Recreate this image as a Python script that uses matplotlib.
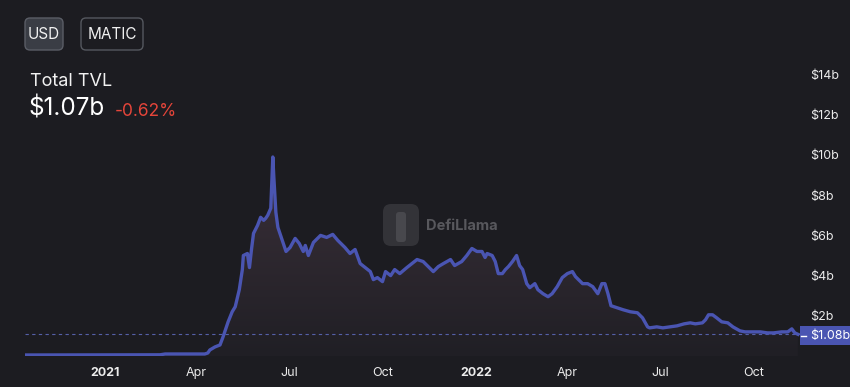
import matplotlib
matplotlib.use("Agg")
import matplotlib.pyplot as plt
import matplotlib.dates as mdates
import numpy as np
import pandas as pd
from matplotlib.patches import FancyBboxPatch, Rectangle
from matplotlib.colors import LinearSegmentedColormap

plt.rcParams['font.family'] = ['Inter', 'DejaVu Sans']

# Polygon total TVL (USD, billions)
dates = [
    "2020-10-14", "2021-02-24", "2021-03-01", "2021-04-09", "2021-04-12", "2021-04-14",
    "2021-04-19", "2021-04-24", "2021-04-27", "2021-05-02", "2021-05-06", "2021-05-09",
    "2021-05-13", "2021-05-16", "2021-05-17", "2021-05-21", "2021-05-23", "2021-05-25",
    "2021-05-27", "2021-05-31", "2021-06-03", "2021-06-06", "2021-06-08", "2021-06-10",
    "2021-06-13", "2021-06-15", "2021-06-16", "2021-06-18", "2021-06-20", "2021-06-24",
    "2021-06-28", "2021-07-02", "2021-07-07", "2021-07-11", "2021-07-15", "2021-07-17",
    "2021-07-20", "2021-07-25", "2021-08-01", "2021-08-07", "2021-08-13", "2021-08-18",
    "2021-08-25", "2021-08-30", "2021-09-04", "2021-09-09", "2021-09-14", "2021-09-19",
    "2021-09-22", "2021-09-26", "2021-10-01", "2021-10-04", "2021-10-09", "2021-10-13",
    "2021-10-18", "2021-10-25", "2021-10-30", "2021-11-04", "2021-11-10", "2021-11-15",
    "2021-11-20", "2021-11-25", "2021-11-30", "2021-12-07", "2021-12-11", "2021-12-18",
    "2021-12-23", "2021-12-28", "2022-01-02", "2022-01-07", "2022-01-10", "2022-01-12",
    "2022-01-17", "2022-01-20", "2022-01-23", "2022-01-27", "2022-01-30", "2022-02-02",
    "2022-02-06", "2022-02-10", "2022-02-13", "2022-02-16", "2022-02-20", "2022-02-23",
    "2022-02-28", "2022-03-03", "2022-03-08", "2022-03-13", "2022-03-17", "2022-03-22",
    "2022-03-27", "2022-04-01", "2022-04-06", "2022-04-09", "2022-04-12", "2022-04-16",
    "2022-04-21", "2022-04-26", "2022-05-01", "2022-05-05", "2022-05-08", "2022-05-11",
    "2022-05-14", "2022-05-20", "2022-05-26", "2022-06-02", "2022-06-09", "2022-06-14",
    "2022-06-19", "2022-06-21", "2022-06-28", "2022-07-04", "2022-07-11", "2022-07-18",
    "2022-07-25", "2022-07-31", "2022-08-05", "2022-08-12", "2022-08-15", "2022-08-18",
    "2022-08-22", "2022-08-26", "2022-08-31", "2022-09-06", "2022-09-11", "2022-09-18",
    "2022-09-23", "2022-10-01", "2022-10-08", "2022-10-15", "2022-10-21", "2022-10-29",
    "2022-11-04", "2022-11-08", "2022-11-11", "2022-11-14",
]
tvl = [
    0.05, 0.06, 0.10, 0.10, 0.15, 0.30,
    0.45, 0.55, 0.95, 1.70, 2.20, 2.45,
    3.30, 4.30, 5.00, 5.10, 4.40, 5.30,
    6.10, 6.50, 6.90, 6.75, 6.85, 7.00,
    7.35, 9.90, 8.90, 7.15, 6.40, 5.80,
    5.20, 5.40, 5.85, 5.60, 5.20, 5.50,
    5.00, 5.65, 6.00, 5.90, 6.05, 5.75,
    5.40, 5.10, 5.30, 4.60, 4.40, 4.20,
    3.80, 3.90, 3.70, 4.20, 4.00, 4.30,
    4.10, 4.40, 4.60, 4.80, 4.70, 4.45,
    4.20, 4.45, 4.60, 4.80, 4.50, 4.70,
    5.00, 5.35, 5.20, 5.20, 4.90, 5.10,
    5.00, 4.70, 4.10, 4.10, 4.30, 4.45,
    4.70, 5.00, 4.50, 4.30, 3.60, 3.40,
    3.60, 3.30, 3.10, 2.95, 3.10, 3.45,
    3.90, 4.10, 4.20, 3.95, 3.80, 3.60,
    3.60, 3.45, 3.10, 3.60, 3.60, 3.10,
    2.50, 2.40, 2.30, 2.20, 2.15, 1.90,
    1.45, 1.40, 1.45, 1.40, 1.45, 1.50,
    1.60, 1.65, 1.60, 1.65, 1.80, 2.05,
    2.05, 1.90, 1.70, 1.65, 1.45, 1.25,
    1.20, 1.20, 1.20, 1.15, 1.15, 1.20,
    1.20, 1.35, 1.15, 1.08,
]
last_value = 1.08
y_ticks = [2, 4, 6, 8, 10, 12, 14]
x_ticks = ["2021-01-01", "2021-04-01", "2021-07-01", "2021-10-01",
           "2022-01-01", "2022-04-01", "2022-07-01", "2022-10-01"]
x_labels = ["2021", "Apr", "Jul", "Oct", "2022", "Apr", "Jul", "Oct"]

BG = '#1c1c21'
LINE = '#4a55b2'
W, H = 850, 387

fig = plt.figure(figsize=(8.5, 3.87), dpi=100, facecolor=BG)
ax = fig.add_axes([25 / W, 31 / H, 780 / W, 296 / H])
ax.set_facecolor(BG)

x = mdates.date2num(pd.to_datetime(dates))
y = np.array(tvl)

# gradient fill under the line
fill = ax.fill_between(x, y, 0, color='none', lw=0)
cmap = LinearSegmentedColormap.from_list('tvl', ['#201f25', '#3b3039'])
grad = np.linspace(0, 1, 256).reshape(-1, 1)
im = ax.imshow(grad, cmap=cmap, aspect='auto', origin='lower',
               extent=[x.min(), x.max(), 0, y.max()], zorder=1)
im.set_clip_path(fill.get_paths()[0], transform=ax.transData)

ax.plot(x, y, color=LINE, lw=2.4, solid_joinstyle='round', zorder=3)
ax.axhline(last_value, color='#5560a8', lw=0.8, ls=(0, (3, 3)), zorder=2)

ax.set_xlim(mdates.date2num(pd.Timestamp("2020-10-14")),
            mdates.date2num(pd.Timestamp("2022-11-21")))
ax.set_ylim(0, 296 / 20.1)

for s in ax.spines.values():
    s.set_visible(False)
ax.yaxis.tick_right()
ax.set_yticks(y_ticks)
ax.set_yticklabels([f"${v}b" for v in y_ticks])
ax.set_xticks(mdates.date2num(pd.to_datetime(x_ticks)))
ax.set_xticklabels(x_labels)
ax.tick_params(axis='both', length=0, colors='#ececec', labelsize=9)
ax.tick_params(axis='x', pad=8)
ax.tick_params(axis='y', pad=4)
for lbl in ax.get_xticklabels():
    if lbl.get_text().startswith("20"):
        lbl.set_fontweight('bold')

# overlay in pixel coordinates for header, watermark and price label
ov = fig.add_axes([0, 0, 1, 1])
ov.set_xlim(0, W)
ov.set_ylim(H, 0)
ov.axis('off')

ov.add_patch(FancyBboxPatch((25, 18), 38, 32, boxstyle='round,pad=0,rounding_size=5',
                            fc='#3a3d45', ec='#5a5d66', lw=1))
ov.text(44, 34.5, "USD", color='#f0f0f0', fontsize=11, ha='center', va='center')
ov.add_patch(FancyBboxPatch((81, 18), 62, 32, boxstyle='round,pad=0,rounding_size=5',
                            fc=BG, ec='#55585f', lw=1))
ov.text(112, 34.5, "MATIC", color='#f0f0f0', fontsize=11, ha='center', va='center')

ov.text(30, 86, "Total TVL", color='#f2f2f2', fontsize=13, ha='left', va='baseline')
ov.text(29, 116, "$1.07b", color='#ffffff', fontsize=17.5, ha='left', va='baseline')
ov.text(115, 116, "-0.62%", color='#e5453a', fontsize=12.5, ha='left', va='baseline')

# watermark
ov.add_patch(FancyBboxPatch((383, 204), 36, 42, boxstyle='round,pad=0,rounding_size=8',
                            fc='#333338', ec='none', zorder=0))
ov.add_patch(FancyBboxPatch((396, 212), 10, 30, boxstyle='round,pad=0,rounding_size=3',
                            fc='#48484d', ec='none', zorder=0))
ov.text(426, 226, "DefiLlama", color='#58585d', fontsize=10.5, fontweight='bold',
        ha='left', va='center', zorder=0)

# last value label
ov.add_patch(Rectangle((800, 326), 52, 19, fc=LINE, ec='none'))
ov.plot([801, 806], [335.5, 335.5], color='white', lw=1)
ov.text(810, 335.5, "$1.08b", color='white', fontsize=9, ha='left', va='center')

fig.savefig("out.png", dpi=100, facecolor=BG)
